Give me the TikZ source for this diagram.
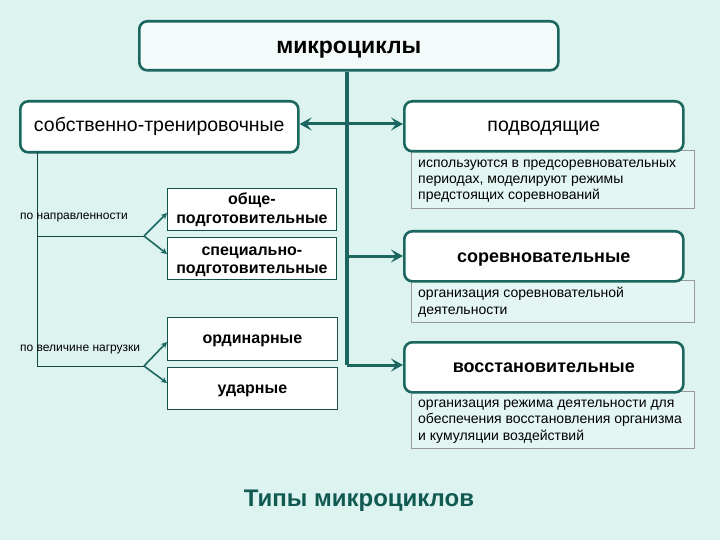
\documentclass[tikz,border=0pt]{standalone}
\usepackage{fontspec}
\setmainfont{Liberation Sans}
\usetikzlibrary{arrows.meta}
\definecolor{bgc}{HTML}{DCF3F0}
\definecolor{teal1}{HTML}{1B665F}
\definecolor{titlec}{HTML}{115A52}
\definecolor{descfill}{HTML}{E3F6F3}
\definecolor{topfill}{HTML}{F3FBFA}
\tikzset{
  rbox/.style={draw=teal1, line width=2.6pt, rounded corners=8pt, fill=white, inner sep=0pt, anchor=north west},
  sbox/.style={draw=teal1!80!black, line width=0.8pt, fill=white, inner sep=0pt, anchor=north west},
  stext/.style={inner sep=0pt, anchor=base, align=center, font=\fontsize{16}{18}\selectfont\bfseries},
  dbox/.style={draw=gray!80, line width=0.7pt, fill=descfill, inner sep=0pt, anchor=north west},
  dtext/.style={anchor=base west, align=left, font=\fontsize{14}{16.3}\selectfont, inner sep=0pt},
  btext/.style={inner sep=0pt, anchor=base},
  trunk/.style={draw=teal1, line width=3.5pt},
  harrow/.style={draw=teal1, line width=3pt, -{Stealth[length=12pt,width=13pt,inset=5pt]}},
  thin/.style={draw=teal1!70!black, line width=0.8pt},
  sarrow/.style={draw=teal1, line width=1.6pt, -{Stealth[length=6pt,width=6pt,inset=2pt]}},
  lbl/.style={font=\fontsize{12}{14}\selectfont, inner sep=0pt, anchor=base west},
}
\begin{document}
\begin{tikzpicture}[x=1pt,y=-1pt]
\useasboundingbox (0,0) rectangle (720,540);
\fill[bgc] (0,0) rectangle (720,540);

% description boxes (drawn first, under the rounded boxes)
\node[dbox, minimum width=283pt, minimum height=58pt] (podd) at (411,150) {};
\node[dtext] at (418,200) {используются в предсоревновательных\\периодах, моделируют режимы\\предстоящих соревнований};

\node[dbox, minimum width=283pt, minimum height=42pt] (sord) at (411,280) {};
\node[dtext] at (418,314) {организация соревновательной\\деятельности};

\node[dbox, minimum width=283pt, minimum height=57pt] (vosd) at (411,391) {};
\node[dtext] at (418,440) {организация режима деятельности для\\обеспечения восстановления организма\\и кумуляции воздействий};

% top
\node[rbox, minimum width=419pt, minimum height=49pt, fill=topfill] (top) at (138,20) {};
\node[btext, font=\fontsize{23}{26}\selectfont\bfseries] (toptxt) at (top.center |- 0,54) {микроциклы};

% level 1
\node[rbox, minimum width=278pt, minimum height=51pt] (sob) at (19,100) {};
\node[btext, font=\fontsize{19.5}{22}\selectfont] at (sob.center |- 0,132) {собственно-тренировочные};

\node[rbox, minimum width=279pt, minimum height=50pt] (pod) at (403,100) {};
\node[btext, font=\fontsize{19.5}{22}\selectfont] at (pod.center |- 0,132) {подводящие};

\node[rbox, minimum width=279pt, minimum height=50pt] (sor) at (403,230) {};
\node[btext, font=\fontsize{18}{21}\selectfont\bfseries] at (sor.center |- 0,262) {соревновательные};

\node[rbox, minimum width=279pt, minimum height=50pt] (vos) at (403,341) {};
\node[btext, font=\fontsize{18}{21}\selectfont\bfseries] at (vos.center |- 0,372) {восстановительные};

% trunk and arrows
\coordinate (tb) at (347,365);
\draw[trunk] (top.south -| tb) -- (tb);
\coordinate (j1) at (347,124);
\draw[harrow] (j1) -- (sob.east |- j1);
\draw[harrow] (j1) -- (pod.west |- j1);
\coordinate (j2) at (347,256);
\draw[harrow] (j2) -- (sor.west |- j2);
\draw[harrow] (tb) -- (vos.west |- tb);

% left sub boxes
\node[sbox, minimum width=169pt, minimum height=42pt] (ob) at (167,188) {};
\node[stext] at (ob.center |- 0,223) {обще-\\подготовительные};
\node[sbox, minimum width=169pt, minimum height=42pt] (sp) at (167,237) {};
\node[stext] at (sp.center |- 0,273) {специально-\\подготовительные};
\node[sbox, minimum width=170pt, minimum height=43pt] (or) at (167,317) {};
\node[stext] at (or.center |- 0,343) {ординарные};
\node[sbox, minimum width=170pt, minimum height=42pt] (ud) at (167,367) {};
\node[stext] at (ud.center |- 0,393) {ударные};

\coordinate (lt) at (37,151);
\coordinate (f1) at (144,236);
\coordinate (f2) at (144,366);
\draw[thin] (lt) -- (37,366) -- (f2);
\draw[thin] (37,236) -- (f1);
\draw[sarrow] (f1) -- (ob.west |- 0,213);
\draw[sarrow] (f1) -- (sp.west |- 0,254);
\draw[sarrow] (f2) -- (or.west |- 0,342);
\draw[sarrow] (f2) -- (ud.west |- 0,383);

\node[lbl] (l1) at (20,220) {по направленности};
\node[lbl] (l2) at (20,351) {по величине нагрузки};

\node[btext, font=\fontsize{24}{28}\selectfont\bfseries, text=titlec] (title) at (359,506) {Типы микроциклов};
\end{tikzpicture}
\end{document}
